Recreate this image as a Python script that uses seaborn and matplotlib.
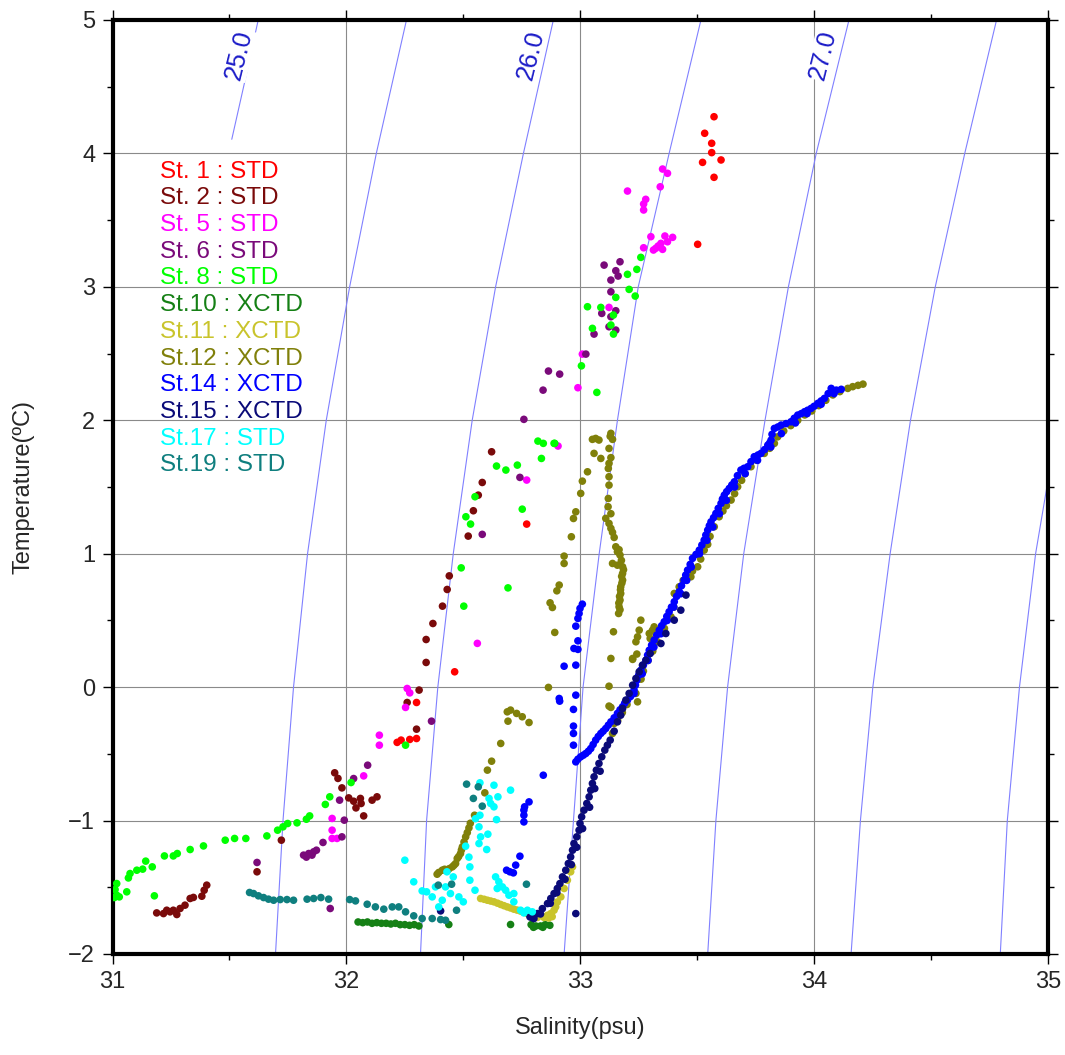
import matplotlib
matplotlib.use("Agg")
import matplotlib.pyplot as plt
import pandas as pd
import seaborn as sns
from matplotlib.ticker import MultipleLocator

sns.set_theme(style="ticks")
plt.rcParams["font.family"] = ["Liberation Sans", "DejaVu Sans"]
plt.rcParams["axes.unicode_minus"] = True

# ---- station data (salinity psu, temperature degC) ----
ST1_S = [33.572, 33.532, 33.562, 33.562, 33.523, 33.602, 33.572, 33.502, 32.771, 32.463,
         32.300, 32.217, 32.234, 32.271, 32.300]
ST1_T = [4.275, 4.151, 4.076, 4.006, 3.933, 3.951, 3.821, 3.319, 1.222, 0.115,
         -0.115, -0.414, -0.397, -0.392, -0.385]

ST2_S = [32.621, 32.581, 32.564, 32.543, 32.521, 32.440, 32.431, 32.411, 32.370, 32.341,
         32.341, 32.311, 32.260, 32.300, 31.950, 31.964, 31.981, 32.010, 32.031, 32.041,
         32.060, 32.063, 32.074, 32.110, 32.131, 31.722, 31.618, 31.189, 31.218, 31.232,
         31.246, 31.260, 31.275, 31.289, 31.310, 31.332, 31.346, 31.382, 31.392, 31.403]
ST2_T = [1.764, 1.534, 1.439, 1.322, 1.132, 0.834, 0.732, 0.607, 0.477, 0.357,
         0.185, -0.022, -0.115, -0.315, -0.642, -0.684, -0.755, -0.830, -0.855, -0.905,
         -0.834, -0.872, -0.965, -0.847, -0.822, -1.147, -1.384, -1.692, -1.697, -1.672,
         -1.684, -1.672, -1.704, -1.659, -1.634, -1.584, -1.576, -1.567, -1.522, -1.484]

ST5_S = [33.352, 33.373, 33.342, 33.202, 33.280, 33.271, 33.271, 33.302, 33.362, 33.395,
         33.373, 33.345, 33.323, 33.352, 33.333, 33.313, 33.271, 33.123, 33.009, 32.990,
         32.905, 32.771, 32.560, 32.260, 32.271, 32.253, 32.141, 32.141, 32.074, 31.939,
         31.939, 31.939, 31.960]
ST5_T = [3.883, 3.851, 3.750, 3.718, 3.656, 3.621, 3.576, 3.376, 3.381, 3.371,
         3.338, 3.326, 3.289, 3.281, 3.306, 3.276, 3.293, 2.846, 2.496, 2.244,
         1.807, 1.552, 0.328, -0.010, -0.043, -0.152, -0.360, -0.435, -0.665, -0.984,
         -1.072, -1.134, -1.134]

ST6_S = [33.102, 33.170, 33.152, 33.162, 33.131, 33.131, 33.152, 33.092, 33.131, 33.123,
         33.152, 33.059, 33.024, 32.864, 32.912, 32.841, 32.759, 32.742, 32.581, 32.364,
         32.091, 32.031, 31.971, 31.991, 31.981, 31.900, 31.817, 31.839, 31.860, 31.853,
         31.872, 31.829, 31.618, 31.931]
ST6_T = [3.163, 3.188, 3.121, 3.081, 3.051, 2.963, 2.821, 2.801, 2.776, 2.701,
         2.676, 2.646, 2.496, 2.369, 2.346, 2.226, 2.007, 1.572, 1.145, -0.255,
         -0.585, -0.685, -0.847, -0.997, -1.122, -1.164, -1.259, -1.247, -1.234, -1.259,
         -1.222, -1.274, -1.314, -1.659]

ST8_S = [33.259, 33.242, 33.202, 33.209, 33.235, 33.152, 33.031, 33.088, 33.142, 33.131,
         33.052, 33.142, 33.005, 33.071, 32.891, 32.819, 32.842, 32.888, 32.834, 32.731,
         32.682, 32.642, 32.550, 32.511, 32.531, 32.752, 32.491, 32.691, 32.502, 32.253,
         32.020, 31.929, 31.910, 31.843, 31.829, 31.789, 31.749, 31.729, 31.706, 31.660,
         31.570, 31.522, 31.482, 31.389, 31.332, 31.277, 31.260, 31.222, 31.170, 31.142,
         31.129, 31.104, 31.075, 31.068, 31.061, 31.179, 31.018, 31.011, 31.018, 31.029,
         31.008]
ST8_T = [3.221, 3.131, 3.094, 2.981, 2.931, 2.921, 2.851, 2.846, 2.789, 2.714,
         2.689, 2.646, 2.408, 2.209, 1.827, 1.844, 1.827, 1.827, 1.714, 1.664,
         1.627, 1.657, 1.427, 1.277, 1.222, 1.334, 0.894, 0.744, 0.607, -0.435,
         -0.715, -0.822, -0.879, -0.965, -0.990, -1.017, -1.022, -1.047, -1.072, -1.115,
         -1.134, -1.134, -1.147, -1.190, -1.217, -1.247, -1.265, -1.265, -1.347, -1.304,
         -1.364, -1.372, -1.397, -1.430, -1.534, -1.564, -1.472, -1.517, -1.559, -1.572,
         -1.577]

ST10_S = [32.05, 32.07, 32.09, 32.11, 32.13, 32.15, 32.17, 32.19, 32.21, 32.23,
          32.25, 32.27, 32.29, 32.31, 32.438, 32.702, 32.79, 32.81, 32.83, 32.85,
          32.87, 32.80, 32.84]
ST10_T = [-1.76, -1.765, -1.76, -1.77, -1.765, -1.77, -1.77, -1.775, -1.77, -1.78,
          -1.78, -1.785, -1.78, -1.79, -1.779, -1.779, -1.78, -1.79, -1.79, -1.78,
          -1.785, -1.80, -1.80]

ST11_S = [32.574, 32.589, 32.603, 32.617, 32.631, 32.646, 32.660, 32.674, 32.688, 32.702,
          32.716, 32.730, 32.745, 32.760, 32.774, 32.795, 32.817, 32.845, 32.860, 32.874,
          32.888, 32.895, 32.902, 32.917, 32.931, 32.945, 32.959, 32.967, 32.865, 32.880]
ST11_T = [-1.584, -1.590, -1.597, -1.603, -1.609, -1.619, -1.629, -1.638, -1.647, -1.655,
          -1.664, -1.671, -1.679, -1.688, -1.697, -1.712, -1.726, -1.726, -1.710, -1.697,
          -1.672, -1.647, -1.610, -1.572, -1.509, -1.447, -1.384, -1.347, -1.730, -1.720]

ST12_S = [
    # upper left branch
    33.052, 33.066, 33.080, 33.059, 33.088, 33.031, 33.009, 33.002, 32.981, 32.971,
    32.962, 32.931, 32.931, 32.910, 32.900, 32.871, 32.881, 32.891, 32.864,
    # right branch
    33.131, 33.138, 33.128, 33.123, 33.131, 33.123, 33.120, 33.123, 33.123, 33.120,
    33.119, 33.131, 33.109, 33.123, 33.131, 33.138, 33.145, 33.152, 33.159, 33.166,
    33.170, 33.176, 33.138, 33.159, 33.181, 33.185, 33.181, 33.177, 33.181, 33.178,
    33.173, 33.172, 33.173, 33.168, 33.170, 33.165, 33.166, 33.170, 33.164, 33.142,
    33.131, 33.123, 33.123, 33.131,
    # small cluster
    33.259, 33.252, 33.245, 33.238, 33.295, 33.309, 33.316, 33.224, 33.242, 33.299,
    33.224,
    # lower left branch
    32.688, 32.702, 32.728, 32.752, 32.781, 32.691, 32.660, 32.621, 32.603, 32.592,
    32.548, 32.530, 32.524, 32.517, 32.510, 32.503, 32.496, 32.492, 32.488, 32.480,
    32.474, 32.467, 32.460, 32.453, 32.440, 32.431, 32.420, 32.410, 32.395, 32.388,
    # main line
    33.138, 33.145, 33.160, 33.180, 33.200, 33.238, 33.245, 33.260, 33.270, 33.290,
    33.310, 33.330, 33.360, 33.388, 33.400, 33.402, 33.423, 33.440, 33.473, 33.480,
    33.502, 33.515, 33.530, 33.545, 33.555, 33.573, 33.594, 33.610, 33.625, 33.645,
    33.660, 33.673, 33.690, 33.705, 33.730, 33.755, 33.787, 33.810, 33.830, 33.844,
    33.870, 33.900, 33.930, 33.960, 33.990, 34.020, 34.050, 34.080, 34.110, 34.144,
    34.165, 34.188, 34.209,
]
ST12_T = [
    1.857, 1.864, 1.852, 1.752, 1.714, 1.614, 1.544, 1.452, 1.314, 1.264,
    1.127, 0.982, 0.927, 0.765, 0.722, 0.632, 0.597, 0.410, -0.002,
    1.902, 1.857, 1.880, 1.789, 1.720, 1.677, 1.639, 1.577, 1.514, 1.414,
    1.352, 1.300, 1.265, 1.227, 1.190, 1.160, 1.122, 1.052, 1.015, 1.030,
    0.990, 0.950, 0.927, 0.914, 0.902, 0.880, 0.852, 0.830, 0.802, 0.780,
    0.752, 0.730, 0.702, 0.680, 0.652, 0.630, 0.602, 0.580, 0.552, 0.415,
    0.215, 0.007, -0.142, -0.152,
    0.502, 0.427, 0.377, 0.340, 0.402, 0.427, 0.452, 0.215, 0.248, 0.365,
    0.208,
    -0.185, -0.172, -0.197, -0.222, -0.265, -0.255, -0.422, -0.555, -0.622, -0.792,
    -0.960, -1.020, -1.055, -1.090, -1.122, -1.160, -1.197, -1.220, -1.247, -1.270,
    -1.284, -1.322, -1.335, -1.347, -1.360, -1.377, -1.365, -1.372, -1.389, -1.402,
    -0.347, -0.272, -0.250, -0.190, -0.130, -0.047, -0.110, 0.060, 0.120, 0.200,
    0.270, 0.340, 0.440, 0.527, 0.600, 0.702, 0.752, 0.800, 0.827, 0.870,
    0.902, 0.960, 1.027, 1.070, 1.130, 1.202, 1.277, 1.320, 1.360, 1.402,
    1.450, 1.502, 1.550, 1.600, 1.652, 1.700, 1.752, 1.790, 1.827, 1.876,
    1.920, 1.960, 2.000, 2.040, 2.070, 2.110, 2.150, 2.190, 2.215, 2.239,
    2.252, 2.262, 2.271,
]

ST14_S = [
    34.116, 34.095, 34.073, 34.060, 34.044, 34.030, 34.016, 34.000, 33.987, 33.972,
    33.959, 33.945, 33.930, 33.915, 33.901, 33.880, 33.859, 33.845, 33.830, 33.820,
    33.816, 33.810, 33.802, 33.788, 33.773, 33.760, 33.744, 33.730, 33.716, 33.700,
    33.687, 33.672, 33.659, 33.648, 33.637, 33.626, 33.616, 33.608, 33.602, 33.590,
    33.580, 33.570, 33.559, 33.552, 33.545, 33.537, 33.530, 33.520, 33.509, 33.495,
    33.480, 33.470, 33.459, 33.451, 33.444, 33.433, 33.423, 33.412, 33.402, 33.390,
    33.380, 33.370, 33.359, 33.348, 33.338, 33.327, 33.316, 33.305, 33.295, 33.288,
    33.281, 33.270, 33.259, 33.250, 33.242, 33.236, 33.230, 33.230, 33.215, 33.202,
    33.190, 33.181, 33.170, 33.159, 33.145, 33.131, 33.120, 33.109, 33.098, 33.088,
    33.077, 33.066, 33.055, 33.045, 33.035, 33.024, 33.013, 33.002, 32.990, 32.981,
    # lower-right edge of the band
    34.085, 34.030, 33.970, 33.920, 33.860, 33.815, 33.758, 33.705, 33.660, 33.625,
    33.595, 33.567, 33.542, 33.510, 33.475, 33.455, 33.430, 33.400, 33.372, 33.345,
    33.315, 33.290, 33.265,
    # scattered column and outliers
    33.009, 32.999, 32.995, 32.990, 32.981, 32.990, 32.973, 32.990, 32.981, 32.931,
    32.981, 32.910, 32.912, 32.971, 32.971, 32.971, 32.971, 32.842, 32.781, 32.762,
    32.759, 32.759, 32.759, 32.742, 32.724, 32.685, 32.699, 32.714,
]
ST14_T = [
    2.232, 2.226, 2.239, 2.200, 2.164, 2.145, 2.127, 2.105, 2.089, 2.075,
    2.064, 2.050, 2.039, 2.015, 1.989, 1.975, 1.964, 1.950, 1.939, 1.895,
    1.852, 1.830, 1.814, 1.780, 1.752, 1.740, 1.727, 1.690, 1.652, 1.640,
    1.627, 1.585, 1.539, 1.515, 1.489, 1.465, 1.439, 1.410, 1.377, 1.340,
    1.302, 1.270, 1.239, 1.210, 1.177, 1.140, 1.102, 1.065, 1.027, 0.995,
    0.965, 0.920, 0.877, 0.840, 0.802, 0.760, 0.715, 0.680, 0.640, 0.600,
    0.565, 0.530, 0.490, 0.460, 0.427, 0.390, 0.352, 0.315, 0.277, 0.240,
    0.202, 0.165, 0.127, 0.090, 0.052, 0.015, -0.022, -0.047, -0.070, -0.097,
    -0.120, -0.147, -0.170, -0.197, -0.230, -0.260, -0.285, -0.310, -0.330, -0.347,
    -0.370, -0.397, -0.430, -0.460, -0.480, -0.497, -0.510, -0.522, -0.540, -0.560,
    2.200, 2.120, 2.050, 1.980, 1.900, 1.800, 1.700, 1.600, 1.500, 1.400,
    1.300, 1.200, 1.100, 1.000, 0.900, 0.800, 0.700, 0.600, 0.500, 0.400,
    0.300, 0.200, 0.100,
    0.622, 0.590, 0.552, 0.515, 0.457, 0.347, 0.290, 0.283, 0.165, 0.157,
    -0.060, -0.085, -0.105, -0.167, -0.292, -0.347, -0.435, -0.660, -0.860, -0.897,
    -0.922, -0.960, -1.010, -1.267, -1.334, -1.372, -1.384, -1.392,
]

ST15_S = [
    32.785, 32.795, 32.802, 32.817, 32.838, 32.860, 32.874, 32.888, 32.902, 32.913,
    32.924, 32.938, 32.949, 32.959, 32.967, 32.973, 32.985, 32.995, 32.999, 33.006,
    33.016, 33.028, 33.038, 33.045, 33.052, 33.059, 33.069, 33.080, 33.092, 33.105,
    33.116, 33.128, 33.145, 33.159, 33.173, 33.181, 33.195, 33.209, 33.224, 33.238,
    33.252, 33.266, 33.281, 33.299, 33.345, 33.366, 33.402, 33.430, 33.452,
    # right edge of the band
    32.830, 32.872, 32.900, 32.935, 32.962, 32.985, 33.010, 33.040, 33.062, 33.085,
    # outliers
    32.403, 32.981,
]
ST15_T = [
    -1.722, -1.727, -1.734, -1.697, -1.660, -1.622, -1.584, -1.547, -1.509, -1.472,
    -1.422, -1.372, -1.322, -1.272, -1.222, -1.172, -1.122, -1.072, -1.022, -0.972,
    -0.922, -0.872, -0.822, -0.772, -0.722, -0.672, -0.622, -0.572, -0.522, -0.472,
    -0.435, -0.397, -0.330, -0.260, -0.210, -0.160, -0.097, -0.047, 0.015, 0.065,
    0.115, 0.165, 0.202, 0.252, 0.327, 0.402, 0.502, 0.577, 0.690,
    -1.700, -1.620, -1.540, -1.440, -1.330, -1.200, -1.060, -0.900, -0.760, -0.630,
    -1.677, -1.697,
]

ST17_S = [32.571, 32.631, 32.702, 32.610, 32.648, 32.617, 32.631, 32.571, 32.552, 32.642,
          32.567, 32.574, 32.605, 32.567, 32.600, 32.510, 32.524, 32.528, 32.528, 32.550,
          32.500, 32.457, 32.430, 32.445, 32.410, 32.367, 32.343, 32.324, 32.288, 32.250,
          32.381, 32.424, 32.395, 32.481, 32.638, 32.652, 32.667, 32.681, 32.695, 32.716,
          32.645, 32.745, 32.774, 32.795, 32.759, 32.716]
ST17_T = [-0.717, -0.735, -0.772, -0.834, -0.822, -0.872, -0.897, -0.960, -0.986, -0.993,
          -1.047, -1.122, -1.102, -1.172, -1.217, -1.192, -1.274, -1.347, -1.447, -1.522,
          -1.609, -1.422, -1.384, -1.547, -1.597, -1.572, -1.534, -1.527, -1.459, -1.297,
          -1.497, -1.497, -1.647, -1.572, -1.422, -1.459, -1.497, -1.522, -1.559, -1.609,
          -1.509, -1.672, -1.672, -1.684, -1.692, -1.547]

ST19_S = [31.586, 31.603, 31.624, 31.646, 31.667, 31.689, 31.717, 31.746, 31.774, 31.832,
          31.860, 31.891, 31.924, 32.014, 32.039, 32.089, 32.124, 32.160, 32.196, 32.224,
          32.253, 32.288, 32.324, 32.367, 32.403, 32.424, 32.514, 32.564, 32.543, 32.581,
          32.450, 32.393, 32.471, 32.770]
ST19_T = [-1.539, -1.547, -1.564, -1.577, -1.589, -1.597, -1.592, -1.592, -1.597, -1.589,
          -1.584, -1.577, -1.589, -1.592, -1.602, -1.627, -1.647, -1.664, -1.647, -1.647,
          -1.684, -1.714, -1.734, -1.734, -1.742, -1.747, -0.727, -0.747, -0.834, -0.892,
          -1.477, -1.484, -1.672, -1.477]

STATION_LABELS = ["St. 1 : STD", "St. 2 : STD", "St. 5 : STD", "St. 6 : STD", "St. 8 : STD",
                  "St.10 : XCTD", "St.11 : XCTD", "St.12 : XCTD", "St.14 : XCTD",
                  "St.15 : XCTD", "St.17 : STD", "St.19 : STD"]
STATION_COLORS = ["#ff0000", "#7a0a0a", "#ff00ff", "#7a0a7a", "#00ff00", "#158015",
                  "#c9c42c", "#80800a", "#0000ff", "#0a0a78", "#00ffff", "#0f7f7f"]
STATION_S = [ST1_S, ST2_S, ST5_S, ST6_S, ST8_S, ST10_S, ST11_S, ST12_S, ST14_S,
             ST15_S, ST17_S, ST19_S]
STATION_T = [ST1_T, ST2_T, ST5_T, ST6_T, ST8_T, ST10_T, ST11_T, ST12_T, ST14_T,
             ST15_T, ST17_T, ST19_T]

# ---- sigma-t isopycnals ----
ISO_T = [-2, -1, 0, 1, 2, 3, 4, 5]
ISO_25_5 = [31.697, 31.729, 31.774, 31.834, 31.914, 32.014, 32.128, 32.257]
ISO_26_0 = [32.317, 32.343, 32.391, 32.457, 32.538, 32.638, 32.757, 32.885]
ISO_26_5 = [32.931, 32.971, 33.012, 33.081, 33.159, 33.248, 33.380, 33.516]
ISO_27_0 = [33.545, 33.580, 33.630, 33.699, 33.790, 33.890, 34.009, 34.149]
ISO_27_5 = [34.158, 34.198, 34.251, 34.325, 34.412, 34.518, 34.644, 34.780]
ISO_25_0_S = [31.510, 31.567, 31.623]
ISO_25_0_T = [4.106, 4.550, 5.000]
ISO_28_0_S = [34.796, 34.826, 34.878, 34.947, 35.000]
ISO_28_0_T = [-2, -1, 0, 1, 1.55]

ISO_LABELS = ["25.0", "26.0", "27.0"]
ISO_LABEL_S = [31.541, 32.788, 34.039]
ISO_LABEL_T = [4.738, 4.738, 4.738]


def main() -> None:
    frames = []
    for label, s, t in zip(STATION_LABELS, STATION_S, STATION_T):
        frames.append(pd.DataFrame({"salinity": s, "temperature": t, "station": label}))
    df = pd.concat(frames, ignore_index=True)

    fig = plt.figure(figsize=(10.65, 10.55), dpi=100)
    ax = fig.add_axes([112.5 / 1065, 101 / 1055, 935.5 / 1065, 934 / 1055])

    iso_color = "#8080ff"
    iso_lines = [(ISO_25_0_S, ISO_25_0_T), (ISO_25_5, ISO_T), (ISO_26_0, ISO_T),
                 (ISO_26_5, ISO_T), (ISO_27_0, ISO_T), (ISO_27_5, ISO_T),
                 (ISO_28_0_S, ISO_28_0_T)]
    for s_vals, t_vals in iso_lines:
        sns.lineplot(x=s_vals, y=t_vals, sort=False, estimator=None, ax=ax,
                     color=iso_color, linewidth=0.8, zorder=1.5)

    for text, s, t in zip(ISO_LABELS, ISO_LABEL_S, ISO_LABEL_T):
        ax.text(s, t, text, rotation=76, rotation_mode="anchor", ha="center", va="center",
                fontsize=18.5, color="#1c1cc8", zorder=2,
                bbox=dict(facecolor="white", edgecolor="none", pad=0.5))

    sns.scatterplot(data=df, x="salinity", y="temperature", hue="station",
                    hue_order=STATION_LABELS, palette=STATION_COLORS, s=30,
                    linewidth=0, legend=False, ax=ax, zorder=3)

    for i, (label, color) in enumerate(zip(STATION_LABELS, STATION_COLORS)):
        py = 171.7 + 26.7 * i
        ax.text(0.0508, (954 - py) / 934, label, transform=ax.transAxes,
                fontsize=17.5, color=color, ha="left", va="center", zorder=4)

    ax.set_xlim(31, 35)
    ax.set_ylim(-2, 5)
    ax.xaxis.set_major_locator(MultipleLocator(1))
    ax.xaxis.set_minor_locator(MultipleLocator(0.5))
    ax.yaxis.set_major_locator(MultipleLocator(1))
    ax.yaxis.set_minor_locator(MultipleLocator(0.5))
    ax.grid(True, which="major", color="#8a8a8a", linewidth=0.8)
    ax.set_axisbelow(True)

    for side in ["left", "right", "top", "bottom"]:
        ax.spines[side].set_visible(True)
        ax.spines[side].set_linewidth(3)
        ax.spines[side].set_color("black")
    ax.tick_params(which="both", direction="out", top=True, right=True,
                   labeltop=False, labelright=False, color="black", width=1.0)
    ax.tick_params(which="major", length=7.5, labelsize=17, pad=5)
    ax.tick_params(which="minor", length=4.5)

    ax.set_xlabel("Salinity(psu)", fontsize=17, labelpad=17)
    ax.set_ylabel("Temperature(ºC)", fontsize=17, labelpad=24)

    fig.savefig("out.png", dpi=100)
    plt.close(fig)


if __name__ == "__main__":
    main()
